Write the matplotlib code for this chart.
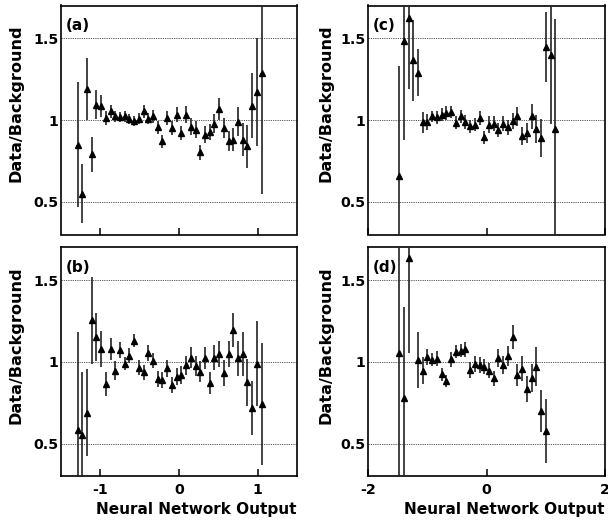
import matplotlib
matplotlib.use("Agg")
import matplotlib.pyplot as plt

plt.rcParams['font.family'] = ['DejaVu Sans']
plt.rcParams['font.weight'] = 'bold'

# ---- data ----
x_ab = [-1.29, -1.23, -1.17, -1.11, -1.05, -0.99, -0.93, -0.87, -0.81, -0.75,
        -0.69, -0.63, -0.57, -0.51, -0.45, -0.39, -0.33, -0.27, -0.21, -0.15,
        -0.09, -0.03, 0.03, 0.09, 0.15, 0.21, 0.27, 0.33, 0.39, 0.45,
        0.51, 0.57, 0.63, 0.69, 0.75, 0.81, 0.87, 0.93, 0.99, 1.05]

y_a = [0.85, 0.55, 1.19, 0.79, 1.094, 1.087, 1.012, 1.053, 1.022, 1.018,
       1.022, 1.006, 0.992, 1.008, 1.053, 1.008, 1.022, 0.955, 0.87, 1.012,
       0.951, 1.033, 0.92, 1.033, 0.96, 0.941, 0.803, 0.911, 0.925, 0.978,
       1.067, 0.953, 0.87, 0.88, 0.99, 0.88, 0.839, 1.087, 1.171, 1.287]
err_a = [0.38, 0.18, 0.19, 0.105, 0.087, 0.066, 0.044, 0.04, 0.033, 0.033,
         0.033, 0.03, 0.03, 0.035, 0.038, 0.035, 0.04, 0.04, 0.04, 0.045,
         0.045, 0.045, 0.045, 0.05, 0.05, 0.05, 0.045, 0.05, 0.05, 0.06,
         0.065, 0.06, 0.06, 0.07, 0.09, 0.1, 0.13, 0.2, 0.33, 0.74]

y_b = [0.585, 0.55, 0.69, 1.253, 1.151, 1.077, 0.864, 1.077, 0.945, 1.073,
       0.988, 1.037, 1.128, 0.965, 0.935, 1.053, 1.008, 0.894, 0.89, 0.961,
       0.86, 0.91, 0.918, 0.978, 1.026, 0.976, 0.94, 1.026, 0.87, 1.026,
       1.047, 0.93, 1.047, 1.196, 1.022, 1.047, 0.874, 0.717, 0.988, 0.743]
err_b = [0.6, 0.39, 0.265, 0.265, 0.145, 0.11, 0.075, 0.068, 0.058, 0.047,
         0.04, 0.045, 0.04, 0.045, 0.045, 0.05, 0.045, 0.05, 0.05, 0.053,
         0.05, 0.053, 0.055, 0.058, 0.062, 0.06, 0.063, 0.067, 0.067, 0.075,
         0.08, 0.08, 0.08, 0.105, 0.107, 0.135, 0.145, 0.163, 0.26, 0.375]

x_c = [-1.48, -1.40, -1.32, -1.24, -1.16, -1.08, -1.00, -0.92, -0.84, -0.76,
       -0.68, -0.60, -0.52, -0.44, -0.36, -0.28, -0.20, -0.12, -0.04, 0.04,
       0.12, 0.20, 0.28, 0.36, 0.44, 0.52, 0.60, 0.68, 0.76, 0.84,
       0.92, 1.00, 1.08, 1.16]
y_c = [0.66, 1.48, 1.622, 1.364, 1.29, 0.986, 0.986, 1.022, 1.016, 1.033,
       1.043, 1.049, 0.982, 1.022, 0.988, 0.961, 0.972, 1.012, 0.894, 0.972,
       0.978, 0.941, 0.978, 0.955, 0.996, 1.022, 0.904, 0.92, 1.022, 0.945,
       0.89, 1.445, 1.396, 0.945]
err_c = [0.67, 0.6, 0.43, 0.25, 0.145, 0.063, 0.048, 0.034, 0.038, 0.04,
         0.04, 0.038, 0.04, 0.04, 0.04, 0.038, 0.04, 0.044, 0.04, 0.05,
         0.045, 0.042, 0.045, 0.046, 0.048, 0.058, 0.055, 0.062, 0.075, 0.087,
         0.115, 0.215, 0.42, 0.67]

x_d = [-1.48, -1.40, -1.32, -1.16, -1.08, -1.00, -0.92, -0.84, -0.76, -0.68,
       -0.60, -0.52, -0.44, -0.36, -0.28, -0.20, -0.12, -0.04, 0.04, 0.12,
       0.20, 0.28, 0.36, 0.44, 0.52, 0.60, 0.68, 0.76, 0.84, 0.92, 1.00]
y_d = [1.053, 0.778, 1.633, 1.012, 0.945, 1.029, 1.012, 1.02, 0.925, 0.884,
       1.016, 1.063, 1.069, 1.077, 0.951, 0.986, 0.98, 0.971, 0.947, 0.9,
       1.022, 0.98, 1.033, 1.151, 0.92, 0.959, 0.833, 0.9, 0.971, 0.697, 0.578]
err_d = [1.0, 0.556, 0.576, 0.17, 0.083, 0.048, 0.04, 0.047, 0.04, 0.037,
         0.047, 0.042, 0.04, 0.047, 0.05, 0.048, 0.047, 0.048, 0.048, 0.047,
         0.056, 0.057, 0.061, 0.072, 0.066, 0.074, 0.078, 0.085, 0.12, 0.128, 0.194]

yticks = [0.5, 1, 1.5]
ytick_labels = ["0.5", "1", "1.5"]
xticks_ab = [-1, 0, 1]
xticks_cd = [-2, 0, 2]
panel_labels = ["(a)", "(b)", "(c)", "(d)"]
ylabel = "Data/Background"
xlabel = "Neural Network Output"

W, H = 608, 521
fig = plt.figure(figsize=(W / 100, H / 100), dpi=100)

def px_axes(l, t, r, b):
    return fig.add_axes([l / W, 1 - b / H, (r - l) / W, (b - t) / H])

ax_a = px_axes(61, 5.5, 297, 234.5)
ax_b = px_axes(61, 247.3, 297, 476.4)
ax_c = px_axes(368.3, 5.5, 605, 234.5)
ax_d = px_axes(368.3, 247.3, 605, 476.4)

panels = [
    (ax_a, x_ab, y_a, err_a, (-1.5, 1.5), xticks_ab, False, -0.189),
    (ax_b, x_ab, y_b, err_b, (-1.5, 1.5), xticks_ab, True, -0.189),
    (ax_c, x_c, y_c, err_c, (-2, 2), xticks_cd, False, -0.177),
    (ax_d, x_d, y_d, err_d, (-2, 2), xticks_cd, True, -0.177),
]

for (ax, xs, ys, es, xlim, xt, bottom, ylx), lab in zip(panels, panel_labels):
    for yv in yticks:
        ax.axhline(yv, color='#444444', lw=0.6, ls=(0, (1.5, 1.2)), zorder=1)
    ax.errorbar(xs, ys, yerr=es, fmt='^', color='black', ms=3.7,
                ecolor='#222222', elinewidth=1.2, capsize=0, zorder=3)
    ax.set_xlim(*xlim)
    ax.set_ylim(0.3, 1.7)
    ax.set_yticks(yticks)
    ax.set_yticklabels(ytick_labels, fontsize=10.3, fontweight='bold')
    ax.tick_params(axis='y', length=0, pad=2)
    ax.set_xticks(xt)
    ax.tick_params(axis='x', direction='in', length=5, width=1.1, pad=5)
    if bottom:
        ax.set_xticklabels([str(v) for v in xt], fontsize=10.3, fontweight='bold')
        ax.text(1.0, -0.166, xlabel, transform=ax.transAxes, ha='right',
                va='baseline', fontsize=11, fontweight='bold')
    else:
        ax.set_xticklabels([])
    ax.minorticks_off()
    for sp in ax.spines.values():
        sp.set_linewidth(1.2)
    ax.text(ylx, 0.574, ylabel, transform=ax.transAxes, rotation=90,
            ha='center', va='center', fontsize=11.6, fontweight='bold')
    ax.text(0.02, 0.945, lab, transform=ax.transAxes, ha='left', va='top',
            fontsize=11, fontweight='bold')

fig.savefig("out.png", dpi=100)
